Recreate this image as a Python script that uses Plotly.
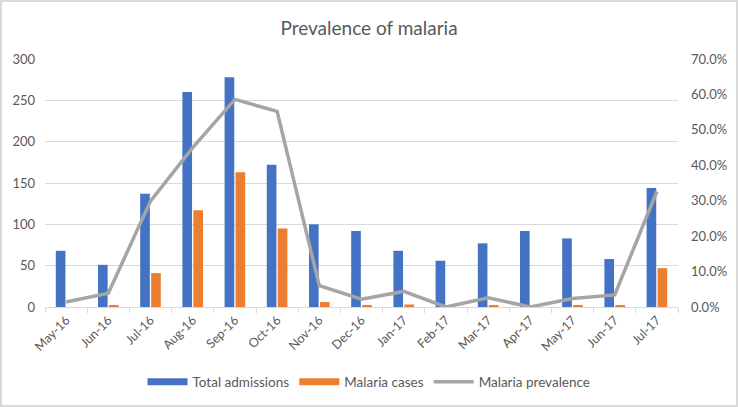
import plotly.graph_objects as go

months = ["May-16", "Jun-16", "Jul-16", "Aug-16", "Sep-16", "Oct-16", "Nov-16", "Dec-16",
          "Jan-17", "Feb-17", "Mar-17", "Apr-17", "May-17", "Jun-17", "Jul-17"]
total_admissions = [68, 51, 137, 260, 278, 172, 100, 92, 68, 56, 77, 92, 83, 58, 144]
malaria_cases = [0, 2, 41, 117, 163, 95, 6, 2, 3, 0, 2, 0, 2, 2, 47]
malaria_prevalence = [0.014, 0.039, 0.299, 0.45, 0.586, 0.552, 0.06, 0.022, 0.044, 0.0,
                      0.026, 0.0, 0.024, 0.034, 0.326]

W, H = 738, 407
ML, MR, MT, MB = 45, 60, 59, 100
PW, PH = W - ML - MR, H - MT - MB

FONT = "Lato, 'Open Sans', sans-serif"
TXT = "#595959"
GRID = "#D9D9D9"
BLUE, ORANGE, GRAY = "#4472C4", "#ED7D31", "#A5A5A5"

fig = go.Figure()
fig.add_trace(go.Bar(x=months, y=total_admissions, name="Total admissions",
                     legendgroup="adm", showlegend=False,
                     marker=dict(color=BLUE, line=dict(width=0)), yaxis="y"))
fig.add_trace(go.Bar(x=months, y=malaria_cases, name="Malaria cases",
                     legendgroup="cases", showlegend=False,
                     marker=dict(color=ORANGE, line=dict(width=0)), yaxis="y"))
# legend-only entries with wide rectangular swatches (Excel style)
fig.add_trace(go.Scatter(x=[None], y=[None], mode="lines", name="Total admissions",
                         legendgroup="adm", line=dict(color=BLUE, width=7)))
fig.add_trace(go.Scatter(x=[None], y=[None], mode="lines", name="Malaria cases",
                         legendgroup="cases", line=dict(color=ORANGE, width=7)))
fig.add_trace(go.Scatter(x=months, y=malaria_prevalence, name="Malaria prevalence",
                         mode="lines", line=dict(color=GRAY, width=3.5), yaxis="y2"))

fig.update_layout(
    width=W, height=H,
    margin=dict(l=ML, r=MR, t=MT, b=MB, autoexpand=False),
    paper_bgcolor="white", plot_bgcolor="white",
    font=dict(family=FONT, color=TXT, size=13),
    barmode="group", bargap=0.48, bargroupgap=0.12,
    title=dict(text="Prevalence of malaria", x=0.5, xref="container", xanchor="center",
               y=1 - 28 / H, yref="container", yanchor="middle",
               font=dict(family=FONT, size=19, color=TXT)),
    xaxis=dict(type="category", showgrid=False, showline=True, linecolor=GRID, linewidth=1,
               ticks="outside", tickson="boundaries", ticklen=5, tickcolor=GRID,
               tickangle=-45, tickfont=dict(size=12.5, color=TXT)),
    yaxis=dict(range=[0, 300], dtick=50, showgrid=True, gridcolor=GRID, gridwidth=1,
               zeroline=False, showline=False, ticks="", ticklabelstandoff=9,
               tickfont=dict(size=13, color=TXT)),
    yaxis2=dict(range=[0, 0.7], dtick=0.1, tickformat=".1%", overlaying="y", side="right",
                showgrid=False, zeroline=False, showline=False, ticks="",
                ticklabelstandoff=12, tickfont=dict(size=13, color=TXT)),
    legend=dict(orientation="h", x=0.5, xref="container", xanchor="center",
                y=-(382 - (MT + PH)) / PH, yanchor="middle",
                font=dict(size=13.5, color=TXT), itemwidth=40, tracegroupgap=0),
    shapes=[dict(type="rect", xref="paper", yref="paper",
                 x0=-(ML - 1) / PW, x1=1 + (MR - 1) / PW,
                 y0=-(MB - 1) / PH, y1=1 + (MT - 1) / PH,
                 line=dict(color="#D9D9D9", width=2), fillcolor="rgba(0,0,0,0)", layer="below")],
)

fig.write_html("out.html", config={"displayModeBar": False},
               post_script="document.body.style.margin='0';document.body.style.overflow='hidden';")
